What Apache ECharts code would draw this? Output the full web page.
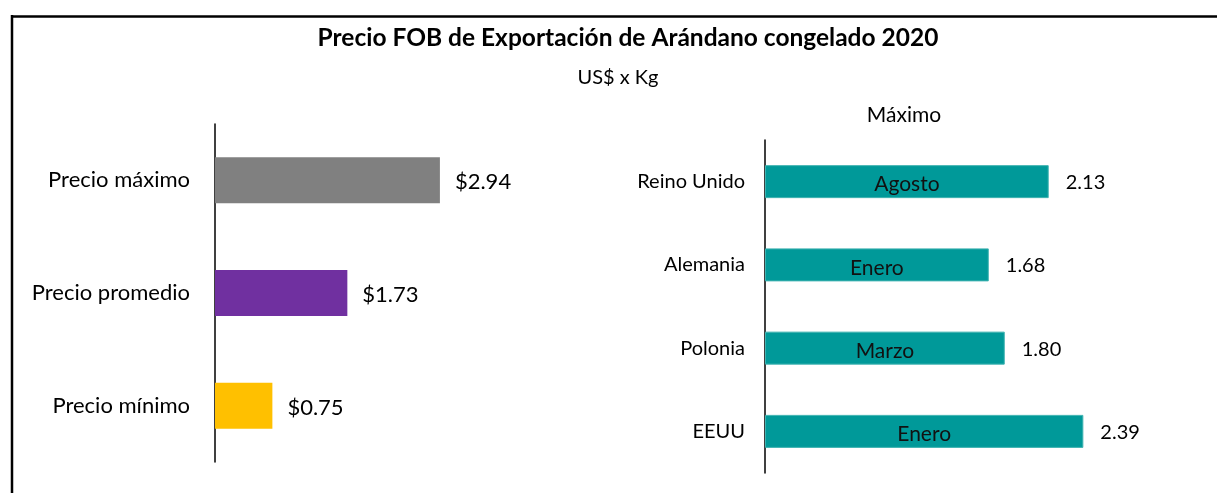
<!DOCTYPE html>
<html>
<head>
<meta charset="utf-8">
<script src="https://cdn.jsdelivr.net/npm/echarts@6/dist/echarts.min.js"></script>
<style>
  html, body { margin: 0; padding: 0; background: #fff; }
  #chart { width: 1217px; height: 493px; }
</style>
</head>
<body>
<div id="chart"></div>
<script>
// Left panel: price summary
const priceCategories = ['Precio máximo', 'Precio promedio', 'Precio mínimo'];
const priceValues = [2.94, 1.73, 0.75];
const priceColors = ['#808080', '#7030A0', '#FFC000'];

// Right panel: maximum price by country, with month
const countryCategories = ['Reino Unido', 'Alemania', 'Polonia', 'EEUU'];
const countryValues = [2.13, 1.68, 1.80, 2.39];
const countryMonths = ['Agosto', 'Enero', 'Marzo', 'Enero'];

const FONT = 'Lato';

const chart = echarts.init(document.getElementById('chart'));

const option = {
  backgroundColor: '#fff',
  textStyle: { fontFamily: FONT },
  title: [
    {
      text: 'Precio FOB de Exportación de Arándano congelado 2020',
      left: 623,
      textAlign: 'center',
      top: 21,
      textStyle: { fontFamily: FONT, fontSize: 24.5, fontWeight: 'bold', color: '#000' }
    },
    {
      text: 'US$ x Kg',
      left: 613,
      textAlign: 'center',
      top: 63,
      textStyle: { fontFamily: FONT, fontSize: 20, fontWeight: 'normal', color: '#000' }
    },
    {
      text: 'Máximo',
      left: 899,
      textAlign: 'center',
      top: 100,
      textStyle: { fontFamily: FONT, fontSize: 21, fontWeight: 'normal', color: '#000' }
    }
  ],
  grid: [
    { left: 215, top: 124, width: 306, height: 338 },
    { left: 765, top: 140, width: 333, height: 333 }
  ],
  xAxis: [
    { gridIndex: 0, type: 'value', min: 0, max: 4, show: false },
    { gridIndex: 1, type: 'value', min: 0, max: 2.5, show: false }
  ],
  yAxis: [
    {
      gridIndex: 0,
      type: 'category',
      data: priceCategories,
      inverse: true,
      axisLine: { lineStyle: { color: '#000', width: 1.5 } },
      axisTick: { show: false },
      axisLabel: { margin: 25, fontSize: 22, color: '#000', fontFamily: FONT }
    },
    {
      gridIndex: 1,
      type: 'category',
      data: countryCategories,
      inverse: true,
      axisLine: { lineStyle: { color: '#000', width: 1.5 } },
      axisTick: { show: false },
      axisLabel: { margin: 20, fontSize: 20, color: '#000', fontFamily: FONT }
    }
  ],
  series: [
    {
      type: 'bar',
      xAxisIndex: 0,
      yAxisIndex: 0,
      barWidth: 46,
      data: priceValues.map((v, i) => ({ value: v, itemStyle: { color: priceColors[i] } })),
      label: {
        show: true,
        position: 'right',
        distance: 15,
        fontSize: 22,
        color: '#000',
        fontFamily: FONT,
        offset: [0, 2],
        formatter: p => '$' + p.value.toFixed(2)
      }
    },
    {
      type: 'bar',
      xAxisIndex: 1,
      yAxisIndex: 1,
      barWidth: 33,
      itemStyle: { color: '#009999', borderColor: '#3fb3b1', borderWidth: 1 },
      data: countryValues,
      label: {
        show: true,
        position: 'right',
        distance: 17,
        fontSize: 20,
        color: '#000',
        fontFamily: FONT,
        offset: [0, 1],
        formatter: p => p.value.toFixed(2)
      },
      z: 2
    },
    {
      // month labels inside the country bars
      type: 'bar',
      xAxisIndex: 1,
      yAxisIndex: 1,
      barWidth: 33,
      barGap: '-100%',
      itemStyle: { color: 'transparent' },
      data: countryValues,
      silent: true,
      label: {
        show: true,
        position: 'inside',
        offset: [0, 3],
        fontSize: 21,
        color: '#111',
        fontFamily: FONT,
        formatter: p => countryMonths[p.dataIndex]
      },
      z: 3
    }
  ],
  graphic: [
    { type: 'line', shape: { x1: 12, y1: 15, x2: 12, y2: 493 }, style: { stroke: '#000', lineWidth: 2.5 } },
    { type: 'line', shape: { x1: 11, y1: 16.5, x2: 1217, y2: 16.5 }, style: { stroke: '#000', lineWidth: 2.5 } }
  ]
};

chart.setOption(option);
</script>
</body>
</html>
